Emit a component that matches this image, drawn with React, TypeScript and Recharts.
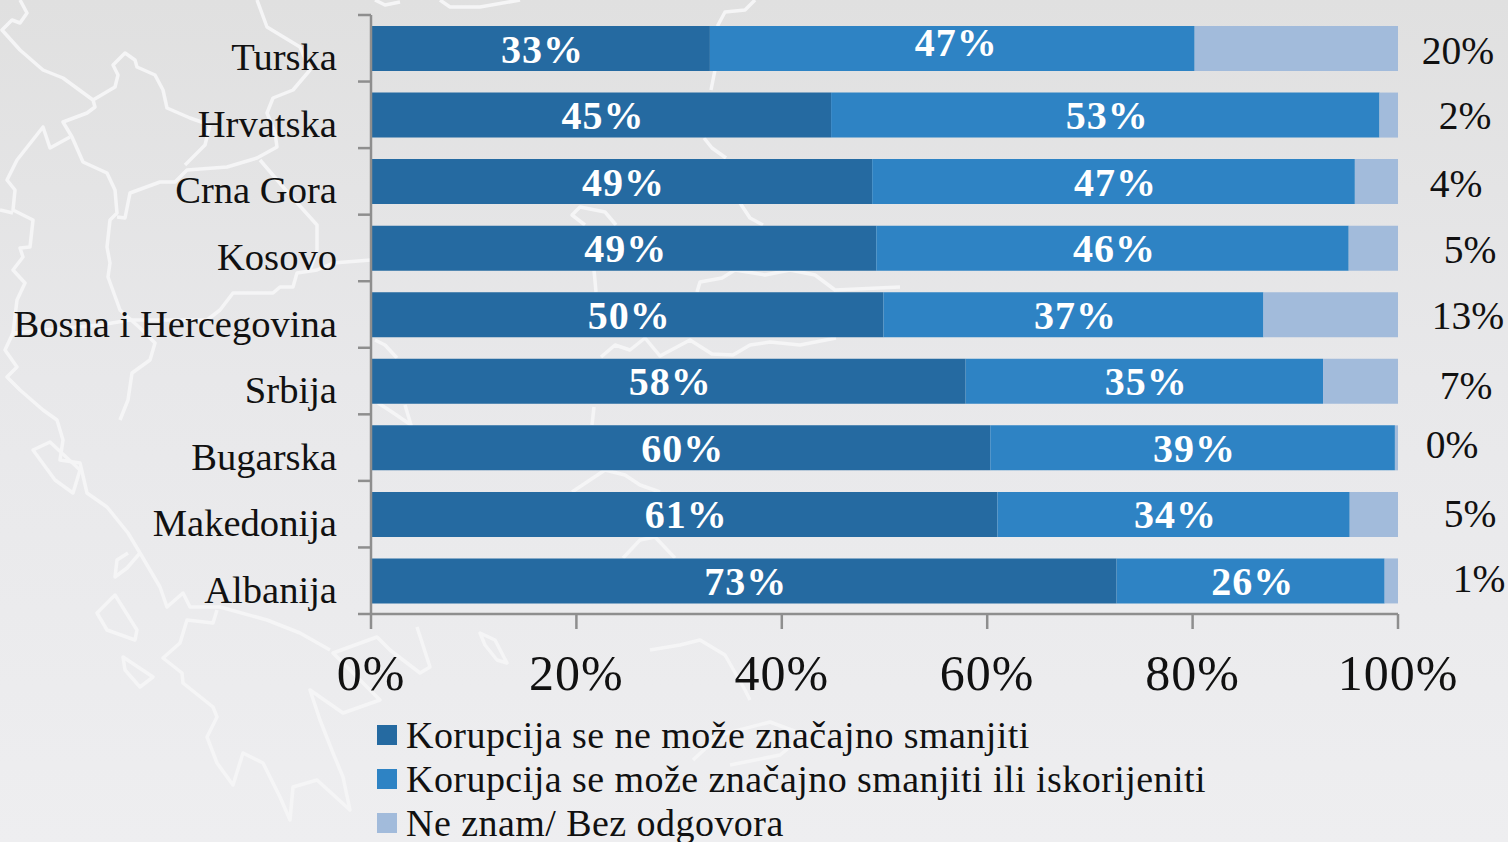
import { BarChart, Bar, XAxis, YAxis, Legend, LabelList } from 'recharts'

const countries = ['Turska', 'Hrvatska', 'Crna Gora', 'Kosovo', 'Bosna i Hercegovina', 'Srbija', 'Bugarska', 'Makedonija', 'Albanija']
const cannotReduce = [33, 44.8, 48.8, 49.2, 49.9, 57.9, 60.3, 61, 72.6]
const canReduce = [47.2, 53.4, 47, 46, 37, 34.8, 39.4, 34.3, 26.1]
const dontKnow = [19.8, 1.8, 4.2, 4.8, 13.1, 7.3, 0.3, 4.7, 1.3]
const xTicks = [0, 20, 40, 60, 80, 100]

const seriesNames = [
  'Korupcija se ne može značajno smanjiti',
  'Korupcija se može značajno smanjiti ili iskorijeniti',
  'Ne znam/ Bez odgovora',
]

const data = countries.map((name, i) => ({
  name,
  cannotReduce: cannotReduce[i],
  canReduce: canReduce[i],
  dontKnow: dontKnow[i],
}))

// the outside labels were dragged by hand in the original, so each one has its own nudge
const outsideNudgeX = [60, 67, 58, 72, 70, 68, 54, 72, 81]
const outsideNudgeY = [0, -1, 0, 0, -1, 3, -5, -2, -4]

const FONT = '"Liberation Serif", serif'
const AXIS_GREY = '#8e8e8e'
const AXIS_X = 371
const PLOT_TOP = 15
const PLOT_HEIGHT = 599
const BAND = PLOT_HEIGHT / countries.length

// background map outline, white lines behind the chart
const mapLines = [
  'M20 0L27 13L20 23L12 20L2 30L20 50L43 70L63 78L93 100L95 107L87 113L63 122L72 137L83 162L107 173L115 190L117 213L110 220L107 247L110 263L108 277L120 310L140 328L155 343L150 360L132 373L128 400L120 420',
  'M93 100L115 87L118 75L113 65L125 53L135 60L137 67L155 75L163 90L167 108L190 118L210 125L205 145L185 165',
  'M117 217L125 218L130 193L160 182L175 182L187 170L227 167L257 158L277 147L275 133L267 113L273 98L293 90L310 70L300 47L267 27L257 0',
  'M260 160L290 195L317 225L317 250L310 270',
  'M13 333L100 325L130 320L207 320L220 310L233 293L273 293L280 287L293 287L297 273L317 270L333 263L371 260',
  'M70 137L50 148L43 127L17 160L7 180L15 190L13 210L33 220L30 247L20 248L23 257L13 270L25 283L17 300L13 333L5 350L17 367L7 377L20 390L43 410L57 420L63 440L60 460L80 463L87 493L107 507L128 533L140 553L160 587L167 607L183 593L190 607L220 607L267 620L300 633L330 650',
  'M0 210L13 213',
  'M217 610L213 623L187 620L180 643L163 658L182 673L183 683L213 707L217 717L207 737L217 763L233 785L243 753L263 763L280 797L290 820L293 787L317 780L350 810L343 777L333 753L320 720L310 690L343 713L380 700L333 653L377 637L390 650L420 673L430 667L417 627',
  'M33 450L50 442L80 470L73 493L55 480Z',
  'M128 553L117 560L115 577L127 568L140 553',
  'M97 613L115 595L137 630L135 640L107 630Z',
  'M123 657L153 677L140 687L125 670Z',
  'M755 0L745 10L725 12L718 25L715 70L711 90',
  'M704 138L712 148L726 158',
  'M585 225L572 215L580 207L605 212L616 225',
  'M740 203L750 218L763 225',
  'M594 270L596 292',
  'M697 292L700 282L722 278L735 270L765 275L790 270L815 275L835 290L900 287',
  'M375 0L385 5L400 2M440 0L450 7L480 7L520 0',
  'M601 357L615 345L630 350L645 338L660 356L690 340L712 354L733 355L750 345L770 342L800 345L836 338',
  'M375 340L385 345L397 358',
  'M378 403L392 412L411 425L405 405',
  'M594 407L592 425',
  'M572 492L590 480L605 470L625 475L640 485L660 492',
  'M623 558L640 540L655 537L675 558',
  'M480 633L495 640L507 663L497 660L485 645Z',
  'M650 650L680 645L700 640L725 655L745 690L750 700',
  'M693 760L720 735L770 722L805 735L780 755L730 765',
]

function CountryTick({ y, payload, index }: any) {
  const top = y - BAND / 2
  return (
    <g>
      <line x1={AXIS_X - 13} x2={AXIS_X} y1={top} y2={top} stroke={AXIS_GREY} strokeWidth={2.5} />
      {index === countries.length - 1 && (
        <line x1={AXIS_X - 13} x2={AXIS_X} y1={y + BAND / 2} y2={y + BAND / 2} stroke={AXIS_GREY} strokeWidth={2.5} />
      )}
      <text x={337} y={y + 22} textAnchor="end" fontFamily={FONT} fontSize={38.6} fill="#111">
        {payload.value}
      </text>
    </g>
  )
}

function InsideLabel({ x, y, width, height, value, index, lift }: any) {
  const up = lift && index === 0 ? 7 : 0
  return (
    <text
      x={x + width / 2 + 2 + (lift && index === 0 ? 2 : 0)}
      y={y + height / 2 + 14 - up}
      textAnchor="middle"
      fontFamily={FONT}
      fontWeight="bold"
      fontSize={40}
      letterSpacing={1}
      fill="#fff"
    >
      {Math.round(value)}%
    </text>
  )
}

function OutsideLabel({ x, width, y, height, value, index }: any) {
  return (
    <text
      x={x + width + outsideNudgeX[index]}
      y={y + height / 2 + 15 + outsideNudgeY[index]}
      textAnchor="middle"
      fontFamily={FONT}
      fontSize={39.5}
      fill="#111"
    >
      {Math.round(value)}%
    </text>
  )
}

function LegendRows({ payload }: any) {
  return (
    <div>
      {payload.map((entry: any) => (
        <div key={entry.value} style={{ display: 'flex', alignItems: 'center', height: 44 }}>
          <span style={{ width: 20, height: 20, background: entry.color, marginRight: 9 }} />
          <span style={{ fontFamily: FONT, fontSize: 38, letterSpacing: 0.45, color: '#111', whiteSpace: 'nowrap' }}>
            {entry.value}
          </span>
        </div>
      ))}
    </div>
  )
}

export default function App() {
  return (
    <div
      style={{
        position: 'fixed',
        left: 0,
        top: 0,
        width: 1508,
        height: 842,
        overflow: 'hidden',
        background: 'linear-gradient(#e0e0e0, #e8e8ea 45%, #eeeef0 100%)',
      }}
    >
      <svg width={1508} height={842} style={{ position: 'absolute', left: 0, top: 0 }}>
        {mapLines.map((d) => (
          <path key={d} d={d} fill="none" stroke="#f5f5f6" strokeWidth={3.5} strokeLinejoin="round" />
        ))}
      </svg>
      <BarChart
        width={1508}
        height={842}
        layout="vertical"
        data={data}
        barSize={45}
        margin={{ top: PLOT_TOP, right: 110, bottom: 36, left: 0 }}
        style={{ position: 'absolute', left: 0, top: 0 }}
      >
        <XAxis
          type="number"
          domain={[0, 100]}
          ticks={xTicks}
          tickFormatter={(v) => `${v}%`}
          height={60}
          tickSize={15}
          tickMargin={25}
          interval={0}
          axisLine={{ stroke: AXIS_GREY, strokeWidth: 2.5 }}
          tickLine={{ stroke: AXIS_GREY, strokeWidth: 2.5 }}
          tick={{ fontFamily: FONT, fontSize: 50, letterSpacing: 1, fill: '#111' }}
        />
        <YAxis
          type="category"
          dataKey="name"
          width={AXIS_X}
          interval={0}
          tickLine={false}
          axisLine={{ stroke: AXIS_GREY, strokeWidth: 2.5 }}
          tick={<CountryTick />}
        />
        <Legend
          content={<LegendRows />}
          itemSorter={null}
          wrapperStyle={{ left: 377, top: 713, width: 900, height: 132 }}
        />
        <Bar dataKey="cannotReduce" name={seriesNames[0]} stackId="a" fill="#256aa1" isAnimationActive={false}>
          <LabelList dataKey="cannotReduce" content={<InsideLabel />} />
        </Bar>
        <Bar dataKey="canReduce" name={seriesNames[1]} stackId="a" fill="#2e83c4" isAnimationActive={false}>
          <LabelList dataKey="canReduce" content={<InsideLabel lift />} />
        </Bar>
        <Bar dataKey="dontKnow" name={seriesNames[2]} stackId="a" fill="#a2bbdb" isAnimationActive={false}>
          <LabelList dataKey="dontKnow" content={<OutsideLabel />} />
        </Bar>
      </BarChart>
    </div>
  )
}
